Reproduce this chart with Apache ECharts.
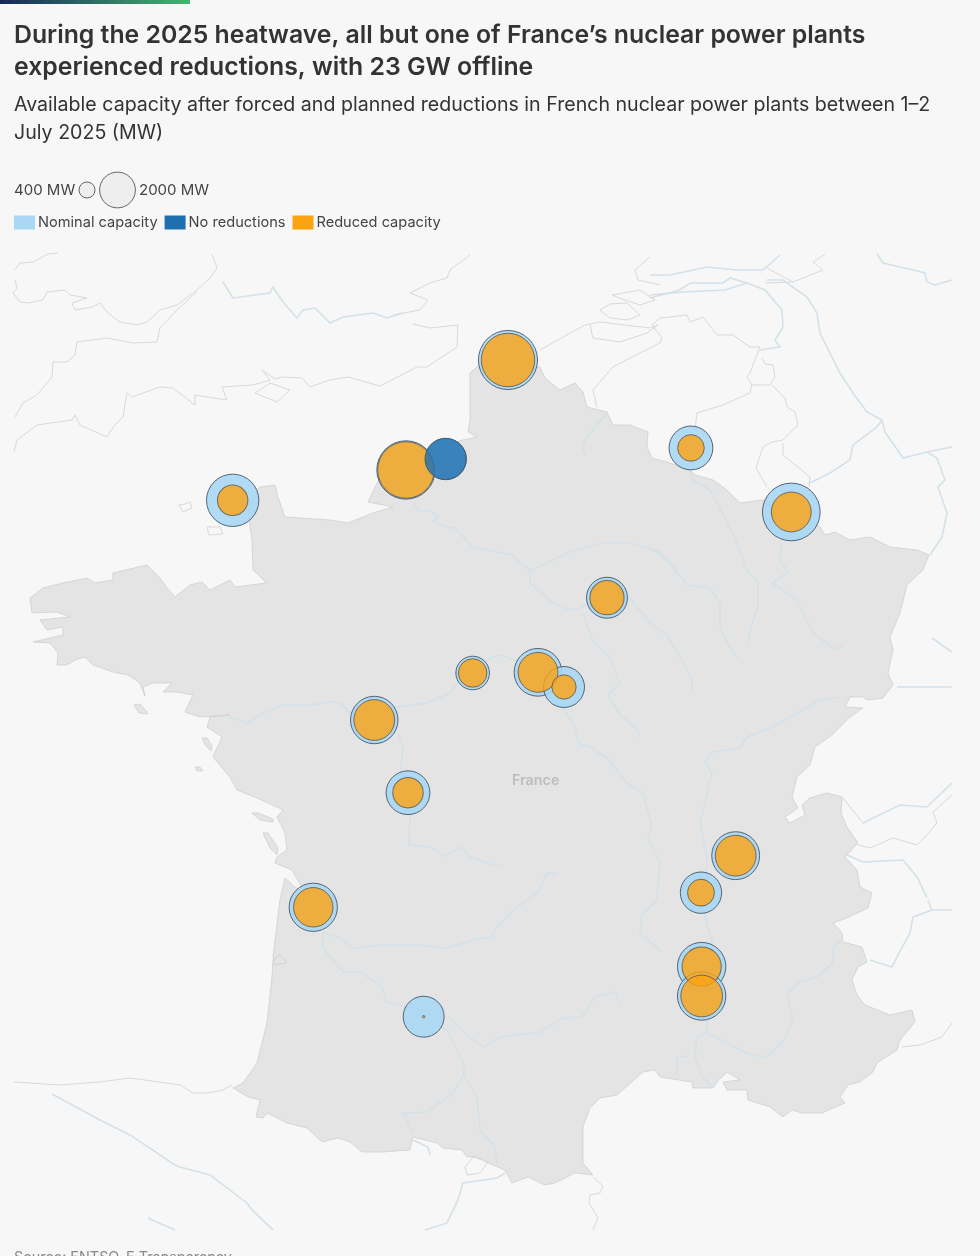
<!DOCTYPE html>
<html>
<head>
<meta charset="utf-8">
<style>
html, body { margin: 0; padding: 0; background: #f7f7f7; overflow: hidden; }
#main { width: 980px; height: 1256px; }
</style>
<script src="https://cdn.jsdelivr.net/npm/echarts@6/dist/echarts.min.js"></script>
</head>
<body>
<div id="main"></div>
<script>
// plants
const plantNames = ['Gravelines', 'Paluel', 'Penly', 'Chooz', 'Cattenom', 'Flamanville', 'Nogent', 'Saint-Laurent', 'Dampierre', 'Belleville', 'Chinon', 'Civaux', 'Blayais', 'Bugey', 'Saint-Alban', 'Cruas', 'Tricastin', 'Golfech']
const plantLon = [2.116, 0.638, 1.213, 4.768, 6.222, -1.874, 3.551, 1.604, 2.551, 2.928, 0.178, 0.667, -0.706, 5.416, 4.913, 4.923, 4.923, 0.894]
const plantLat = [50.99, 49.837, 49.952, 50.068, 49.397, 49.519, 48.498, 47.709, 47.716, 47.562, 47.216, 46.454, 45.253, 45.794, 45.406, 44.631, 44.323, 44.106]
const nominalMW = [5460, 5320, 2660, 3000, 5200, 4280, 2620, 1760, 3560, 2620, 3520, 2990, 3640, 3580, 2670, 3660, 3660, 2620]
const availableMW = [4470, 5000, 2660, 1100, 2480, 1450, 1830, 1270, 2480, 920, 2600, 1450, 2430, 2600, 1130, 2400, 2720, 8]

const legendSizes = [400, 2000]

// basemap outlines, traced in picture units and turned to lon/lat below
const franceOutline = [[470,373],[478,366],[540,367],[545,378],[560,390],[575,383],[583,392],[587,407],[607,412],[613,425],[630,425],[648,432],[647,447],[652,458],[670,463],[690,470],[695,475],[713,480],[727,490],[740,503],[763,500],[790,505],[820,527],[825,535],[835,532],[850,540],[870,537],[890,547],[917,550],[929,555],[923,570],[907,585],[900,613],[890,637],[893,650],[888,673],[893,685],[883,698],[867,700],[863,697],[850,697],[845,707],[863,708],[850,717],[832,735],[815,747],[810,765],[797,777],[792,797],[798,808],[785,817],[790,823],[805,815],[802,805],[810,798],[827,793],[842,797],[841,813],[847,827],[858,843],[845,857],[857,870],[860,887],[872,893],[868,908],[847,918],[833,923],[842,933],[843,942],[862,947],[867,962],[858,967],[852,980],[857,995],[865,1005],[890,1015],[912,1010],[915,1022],[900,1040],[897,1050],[877,1063],[873,1072],[860,1082],[848,1085],[840,1097],[845,1103],[822,1113],[802,1113],[792,1110],[783,1117],[770,1107],[748,1100],[747,1090],[727,1090],[723,1082],[740,1080],[727,1072],[717,1082],[713,1088],[693,1088],[692,1082],[660,1077],[655,1070],[643,1072],[617,1095],[600,1098],[590,1108],[583,1127],[583,1163],[593,1175],[575,1173],[555,1183],[545,1185],[528,1177],[512,1183],[505,1170],[488,1163],[477,1157],[467,1157],[462,1150],[443,1148],[437,1143],[413,1137],[410,1150],[383,1152],[362,1152],[350,1142],[338,1138],[322,1142],[307,1128],[287,1123],[267,1113],[263,1118],[256,1117],[260,1100],[248,1097],[233,1088],[243,1083],[257,1063],[267,1023],[272,977],[273,960],[280,955],[287,963],[275,965],[273,957],[280,900],[285,878],[295,887],[305,893],[292,870],[275,863],[277,857],[287,850],[285,833],[277,817],[283,810],[277,807],[257,798],[237,790],[230,777],[213,757],[222,737],[207,727],[210,717],[230,715],[200,717],[185,712],[193,695],[177,692],[163,692],[172,683],[153,683],[143,687],[145,696],[140,683],[128,675],[113,672],[93,665],[85,657],[75,660],[67,665],[57,665],[58,653],[50,643],[33,642],[63,635],[63,627],[47,630],[40,620],[70,617],[57,612],[32,613],[30,598],[43,588],[63,583],[87,578],[95,583],[113,580],[113,573],[147,565],[160,578],[167,588],[175,597],[190,585],[202,582],[210,590],[230,580],[235,587],[267,583],[253,570],[252,540],[250,527],[248,505],[260,487],[275,485],[278,497],[285,517],[330,520],[348,523],[373,513],[393,507],[368,502],[377,483],[400,460],[463,440],[477,437],[468,432],[470,420],[470,378]]
const islands = [
    [[134,705],[140,704],[147,712],[147,714],[139,713]],
    [[202,738],[207,738],[212,746],[211,751],[206,746]],
    [[195,767],[200,767],[203,771],[197,771]],
    [[252,813],[258,813],[273,819],[273,822],[260,820]],
    [[263,833],[268,833],[278,848],[277,855],[270,848]]
]
const coastLines = [
    [[15,270],[20,263],[33,262],[48,254],[58,253]],
    [[15,280],[17,288],[13,293],[20,302],[28,303],[43,300],[47,292],[65,290],[70,295],[87,298],[72,303],[75,310],[92,307],[100,303],[108,313],[120,322],[137,325],[147,322],[160,310],[177,305],[197,290],[210,278],[217,268],[212,254]],
    [[197,292],[177,310],[160,328],[157,342],[133,343],[107,338],[77,342],[75,355],[67,362],[53,362],[52,377],[37,395],[23,403],[15,417]],
    [[14,452],[17,440],[37,425],[72,420],[75,415],[80,425],[107,437],[115,425],[123,417],[127,393],[132,397],[160,387],[173,388],[195,405],[195,395],[227,400],[222,387],[253,385],[270,380],[262,370],[275,379],[283,377],[302,378],[310,387],[330,380],[348,377],[380,386],[417,367],[427,367],[457,347],[458,325],[430,328],[413,324]],
    [[255,393],[270,383],[290,390],[277,402],[255,393]],
    [[393,315],[420,310],[428,300],[410,293],[430,283],[447,278],[450,270],[470,255]],
    [[540,350],[585,325],[600,322],[625,325],[650,328],[658,325]],
    [[590,325],[593,338],[620,342],[647,333],[658,325]],
    [[600,310],[610,304],[627,303],[640,315],[628,320],[610,318],[600,310]],
    [[612,295],[640,290],[655,300],[640,305],[625,300],[612,295]],
    [[635,270],[650,257]],
    [[635,270],[638,280],[660,285]],
    [[597,407],[593,390],[613,367],[640,353],[660,343],[662,338],[652,325],[660,318],[670,317],[687,315],[690,322],[703,317],[717,335],[733,335],[750,347],[760,347],[750,373],[747,377],[752,385],[750,393],[723,405],[697,413],[695,430]],
    [[762,358],[765,364],[773,365],[775,377],[770,385],[752,385]],
    [[772,385],[785,398],[787,407],[795,412],[798,425],[783,440],[772,442],[763,447],[756,468],[767,487]],
    [[783,443],[783,455],[810,477],[809,487]],
    [[825,254],[813,262],[823,270],[793,282],[767,268]],
    [[765,283],[793,282]],
    [[858,845],[870,848],[893,838],[917,845],[927,835],[937,823],[933,812],[952,795]],
    [[842,797],[863,823]],
    [[902,1047],[920,1045],[942,1037],[952,1023]],
    [[593,1177],[603,1186],[600,1193],[590,1195],[589,1203],[598,1218],[593,1230]],
    [[14,1082],[60,1085],[100,1082],[130,1078],[180,1085],[193,1093],[208,1093],[223,1090],[232,1085]],
    [[465,1167],[473,1157],[488,1162],[480,1173],[467,1175],[465,1167]],
    [[179,505],[185,504],[190,502],[192,508],[183,512],[179,505]],
    [[207,527],[220,527],[223,534],[209,535],[207,527]]
]
const riverLines = [
    [[223,282],[233,298],[270,293],[273,287],[283,302],[297,318],[303,310],[315,308],[330,323],[343,317],[373,313],[387,318],[403,313]],
    [[650,275],[670,275],[707,267],[737,270],[763,270],[780,255]],
    [[650,298],[680,290],[690,283],[723,283],[730,278],[747,283],[765,290],[782,310],[783,327],[775,340],[780,347],[760,350]],
    [[650,295],[683,292],[725,290],[747,283]],
    [[767,280],[783,280],[807,297],[817,313],[820,333],[830,353],[840,373],[853,393],[867,412],[882,420],[885,432],[903,458],[927,452],[937,458],[945,480],[938,487],[947,513],[942,537],[930,555]],
    [[810,483],[830,473],[850,460],[853,445],[877,427],[882,420]],
    [[877,254],[883,263],[913,270],[925,273],[927,282],[935,285],[952,280]],
    [[927,452],[952,447]],
    [[932,638],[952,652]],
    [[897,687],[910,687],[930,687],[952,687]],
    [[863,823],[900,805],[927,807],[952,783]],
    [[847,855],[863,862],[903,860],[917,877],[927,898]],
    [[928,900],[932,910],[952,910]],
    [[932,910],[913,917],[910,933],[897,957],[892,967],[870,960]],
    [[52,1094],[100,1120],[130,1135],[175,1165],[180,1167],[210,1175],[247,1203],[252,1210],[273,1230]],
    [[148,1218],[175,1230]],
    [[425,1230],[447,1223],[458,1200],[463,1183],[497,1178],[505,1173]],
    [[413,1140],[428,1147],[430,1155]],
    // seine, marne, yonne
    [[413,502],[420,512],[430,510],[438,517],[433,522],[448,527],[455,528],[473,547],[497,552],[512,555],[523,565],[530,570],[530,583],[553,603],[570,610],[580,608],[595,600]],
    [[532,570],[570,552],[603,543],[630,543],[660,552],[677,572],[687,585],[710,588],[720,603],[720,627],[730,648],[738,658]],
    [[583,613],[593,642],[610,657],[620,683],[608,695],[620,715],[638,730],[640,738]],
    [[620,590],[630,598],[650,623],[667,635],[680,657],[692,680],[692,693]],
    [[607,413],[587,437],[582,447],[586,457]],
    [[690,470],[693,480],[710,490],[722,513],[737,543],[747,570],[758,582],[758,607],[750,630],[748,647]],
    [[782,543],[780,560],[788,572],[772,583],[797,600],[813,633],[835,650],[843,645]],
    [[650,548],[667,560],[677,572]],
    // loire, vienne
    [[230,717],[247,723],[263,713],[283,705],[310,705],[330,702],[340,703],[350,713],[398,707],[427,703],[450,693],[458,683],[490,658],[500,655],[515,660],[545,680],[563,707],[575,727],[578,743],[590,747],[607,758],[627,783],[643,793],[652,827],[648,838],[660,862],[657,900],[642,915],[640,933],[662,952]],
    [[398,733],[403,747],[401,770],[410,817],[409,845],[430,847],[445,856],[462,847],[470,857],[493,865],[502,866]],
    // dordogne, garonne, tarn
    [[557,874],[547,873],[538,892],[530,898],[510,913],[495,930],[492,938],[480,938],[447,948],[420,945],[380,945],[353,948],[337,937],[323,932]],
    [[323,933],[322,947],[343,972],[360,972],[382,987],[387,1002],[403,1006],[447,1030],[465,1067],[463,1073],[477,1097],[480,1130],[495,1147],[497,1163]],
    [[465,1073],[453,1093],[427,1112],[403,1113],[413,1133]],
    [[448,1017],[467,1035],[483,1047],[500,1037],[540,1032],[563,1018],[582,1017],[595,997],[615,992],[620,1005]],
    // rhone, saone, durance
    [[840,697],[820,700],[797,713],[773,727],[747,737],[740,748],[712,752],[705,762],[712,773],[700,823],[707,857],[705,917],[712,940],[707,1032],[697,1037],[695,1058],[703,1077],[713,1088]],
    [[690,1055],[677,1058],[677,1075]],
    [[708,1033],[747,1053],[765,1058],[783,1042],[793,1020],[787,993],[800,982],[817,977],[833,963],[833,947],[842,940]]
]

const toLonLat = p => [(p[0] - 362) / 69, 50.99 - (p[1] - 360) / 95.4]
const ring = pts => {
    let r = pts.map(toLonLat)
    r.push(r[0])
    return r
}

let features = [franceOutline].concat(islands).map((pts, i) => ({
    type: 'Feature',
    properties: { name: i == 0 ? 'France' : 'island' + i },
    geometry: { type: 'Polygon', coordinates: [ring(pts)] }
}))
echarts.registerMap('france', { type: 'FeatureCollection', features: features })

// bubble area follows MW
const sizeOf = mw => 0.8 * Math.sqrt(mw)
const bubble = (mw, i) => ({ name: plantNames[i], value: [plantLon[i], plantLat[i], mw] })
const isReduced = i => availableMW[i] < nominalMW[i]
const plantIdx = plantNames.map((n, i) => i)

const textFont = 'Inter'
const darkText = '#333333'
const strokeColor = '#44586a'

var myChart = echarts.init(document.getElementById('main'))
let option = {
    backgroundColor: '#f7f7f7',
    animation: false,
    title: [
        {
            text: 'During the 2025 heatwave, all but one of France\u2019s nuclear power plants\nexperienced reductions, with 23 GW offline',
            left: 14, top: 19.5, padding: 0,
            textStyle: { fontFamily: textFont, fontSize: 24.8, fontWeight: 600, color: darkText, lineHeight: 32 }
        },
        {
            text: 'Available capacity after forced and planned reductions in French nuclear power plants between 1\u20132\nJuly 2025 (MW)',
            left: 14, top: 91, padding: 0,
            textStyle: { fontFamily: textFont, fontSize: 19.6, fontWeight: 400, color: darkText, lineHeight: 28 }
        },
        {
            text: 'Source: ENTSO-E Transparency',
            left: 14, top: 1251, padding: 0,
            textStyle: { fontFamily: textFont, fontSize: 14.4, fontWeight: 400, color: '#8a8a8a' }
        }
    ],
    legend: {
        left: 14, top: 215, padding: 0,
        itemWidth: 21, itemHeight: 14, itemGap: 7,
        icon: 'rect',
        selectedMode: false,
        textStyle: { fontFamily: textFont, fontSize: 14.6, color: '#444444', padding: [0, 0, 0, -2] },
        data: [
            { name: 'Nominal capacity', itemStyle: { color: '#a9d7f4', opacity: 1, borderWidth: 0 } },
            { name: 'No reductions', itemStyle: { color: '#1f6fb0', opacity: 1, borderWidth: 0 } },
            { name: 'Reduced capacity', itemStyle: { color: '#fca311', opacity: 1, borderWidth: 0 } }
        ]
    },
    geo: {
        map: 'france',
        roam: false,
        silent: true,
        aspectScale: 69 / 95.4,
        boundingCoords: [[-5.043, 52.122], [8.551, 41.87]],
        left: 14, top: 252, width: 938, height: 978,
        label: { show: false },
        itemStyle: { areaColor: '#e4e4e4', borderColor: '#cfcfcf', borderWidth: 0.8 }
    },
    graphic: [
        {
            type: 'rect', silent: true,
            shape: { x: 0, y: 0, width: 190, height: 4 },
            style: {
                fill: new echarts.graphic.LinearGradient(0, 0, 1, 0, [
                    { offset: 0, color: '#16285a' },
                    { offset: 1, color: '#43b56e' }
                ])
            }
        },
        { type: 'text', silent: true, left: 14, top: 183, style: { text: legendSizes[0] + ' MW', fontFamily: textFont, fontSize: 15, fill: '#444444' } },
        { type: 'circle', silent: true, shape: { cx: 87, cy: 190, r: sizeOf(legendSizes[0]) / 2 }, style: { fill: '#eeeeee', stroke: '#666666', lineWidth: 1 } },
        { type: 'circle', silent: true, shape: { cx: 117.5, cy: 190, r: sizeOf(legendSizes[1]) / 2 }, style: { fill: '#eeeeee', stroke: '#666666', lineWidth: 1 } },
        { type: 'text', silent: true, left: 139, top: 183, style: { text: legendSizes[1] + ' MW', fontFamily: textFont, fontSize: 15, fill: '#444444' } },
        { type: 'text', silent: true, left: 512, top: 774, z: 3, style: { text: 'France', fontFamily: textFont, fontSize: 14.3, fontWeight: 600, fill: '#bdbdbd' } }
    ],
    series: [
        {
            type: 'lines', coordinateSystem: 'geo', polyline: true, silent: true, z: 2,
            lineStyle: { color: '#d9d9d9', width: 1, opacity: 1 },
            data: coastLines.map(pts => ({ coords: pts.map(toLonLat) }))
        },
        {
            type: 'lines', coordinateSystem: 'geo', polyline: true, silent: true, z: 2,
            lineStyle: { color: '#d4e1e9', width: 1.6, opacity: 1 },
            data: riverLines.map(pts => ({ coords: pts.map(toLonLat) }))
        },
        {
            name: 'Nominal capacity', type: 'scatter', coordinateSystem: 'geo', z: 4, silent: true,
            symbolSize: v => sizeOf(v[2]),
            itemStyle: { color: '#a9d7f4', opacity: 0.9, borderColor: strokeColor, borderWidth: 1 },
            data: plantIdx.map(i => bubble(nominalMW[i], i))
        },
        {
            name: 'Reduced capacity', type: 'scatter', coordinateSystem: 'geo', z: 5, silent: true,
            symbolSize: v => sizeOf(v[2]),
            itemStyle: { color: '#fca311', opacity: 0.8, borderColor: '#555555', borderWidth: 1 },
            data: plantIdx.filter(i => isReduced(i)).map(i => bubble(availableMW[i], i))
        },
        {
            name: 'No reductions', type: 'scatter', coordinateSystem: 'geo', z: 6, silent: true,
            symbolSize: v => sizeOf(v[2]),
            itemStyle: { color: '#1f6fb0', opacity: 0.82, borderColor: strokeColor, borderWidth: 1 },
            data: plantIdx.filter(i => !isReduced(i)).map(i => bubble(availableMW[i], i))
        }
    ]
}
myChart.setOption(option)
</script>
</body>
</html>
